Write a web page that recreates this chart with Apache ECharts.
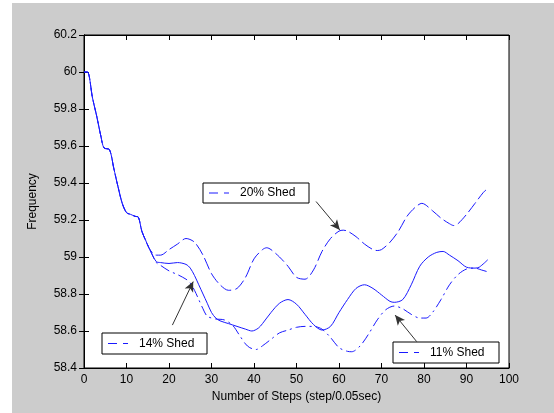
<!DOCTYPE html>
<html>
<head>
<meta charset="utf-8">
<script src="https://cdn.jsdelivr.net/npm/echarts@6/dist/echarts.min.js"></script>
<style>
  html, body { margin: 0; padding: 0; background: #ffffff; }
  #chart { width: 554px; height: 413px; }
</style>
</head>
<body>
<div id="chart"></div>
<script>
// ---- Data ----
const xTicks = [0, 10, 20, 30, 40, 50, 60, 70, 80, 90, 100];
const yTicks = [58.4, 58.6, 58.8, 59, 59.2, 59.4, 59.6, 59.8, 60, 60.2];

// Common descent shared by all three cases
const commonSteps = [0, 0.8, 2, 3, 4, 4.7, 6, 7, 8, 9, 10, 11, 12, 12.8, 13.6, 14.5, 15.5];
const commonVals  = [60.0, 60.0, 59.86, 59.76, 59.65, 59.59, 59.58, 59.48, 59.38, 59.29, 59.24, 59.23, 59.22, 59.215, 59.14, 59.09, 59.04];

// 20% Shed (top, dashed)
const shed20Steps = [17, 18, 20, 22, 24, 26, 28, 30, 32, 34, 36, 38, 40, 42, 43, 44, 46, 48, 50, 52, 54, 56, 58, 60, 61, 62, 64, 66, 68, 69, 70, 72, 74, 76, 78, 79.5, 82, 84, 86, 87, 88, 90, 92, 94, 95];
const shed20Vals  = [59.01, 59.01, 59.04, 59.07, 59.10, 59.08, 59.01, 58.91, 58.85, 58.82, 58.83, 58.89, 58.99, 59.04, 59.05, 59.04, 59.00, 58.95, 58.89, 58.88, 58.93, 59.03, 59.10, 59.14, 59.145, 59.14, 59.11, 59.07, 59.04, 59.035, 59.04, 59.08, 59.14, 59.22, 59.27, 59.29, 59.25, 59.21, 59.18, 59.17, 59.18, 59.23, 59.29, 59.35, 59.37];

// 14% Shed (middle, solid)
const shed14Steps = [17, 18, 20, 22, 24, 25, 26, 27, 28, 29, 30, 31, 32, 34, 36, 38, 39.5, 41, 42, 44, 46, 48, 50, 52, 54, 56, 58, 60, 62, 64, 66, 68, 70, 72, 73, 75, 77, 79, 81, 83, 84.5, 86, 88, 90, 92, 93, 95];
const shed14Vals  = [58.975, 58.97, 58.965, 58.97, 58.96, 58.94, 58.90, 58.85, 58.80, 58.75, 58.70, 58.67, 58.655, 58.64, 58.625, 58.61, 58.60, 58.615, 58.64, 58.70, 58.75, 58.77, 58.745, 58.69, 58.635, 58.605, 58.625, 58.70, 58.77, 58.83, 58.85, 58.83, 58.795, 58.76, 58.755, 58.77, 58.85, 58.95, 59.00, 59.025, 59.03, 59.01, 58.98, 58.945, 58.94, 58.945, 58.985];

// 11% Shed (bottom, dash-dot)
const shed11Steps = [17, 18, 20, 22, 24, 25, 26, 27, 28, 29, 31, 33, 35, 36.5, 38, 39, 40.5, 42, 44, 46, 48, 50, 52, 54, 56, 58, 60, 62, 63, 65, 67, 69, 71, 73, 75, 77, 79, 80.5, 82, 84, 86, 88, 90, 92, 93.5, 95];
const shed11Vals  = [58.97, 58.955, 58.925, 58.905, 58.88, 58.86, 58.82, 58.77, 58.72, 58.68, 58.665, 58.66, 58.63, 58.58, 58.53, 58.51, 58.50, 58.52, 58.555, 58.59, 58.605, 58.62, 58.625, 58.625, 58.61, 58.565, 58.51, 58.49, 58.488, 58.52, 58.585, 58.66, 58.715, 58.735, 58.72, 58.69, 58.67, 58.67, 58.70, 58.77, 58.85, 58.905, 58.935, 58.94, 58.93, 58.92];

// Annotation arrows: [fromStep, fromFreq, toStep, toFreq]
const arrow20 = [54.6, 59.30, 60.2, 59.146];
const arrow14 = [20.8, 58.632, 25.7, 58.867];
const arrow11 = [78.3, 58.542, 73.2, 58.686];

// ---- Build ----
function pairs(xs, ys) { return xs.map((x, i) => [x, ys[i]]); }
const common = pairs(commonSteps, commonVals);
const data20 = common.concat(pairs(shed20Steps, shed20Vals));
const data14 = common.concat(pairs(shed14Steps, shed14Vals));
const data11 = common.concat(pairs(shed11Steps, shed11Vals));

const FONT = "'Liberation Sans Narrow', 'Liberation Sans', Arial, sans-serif";
const BLUE = '#1a1aff';

function arrowLine(a) {
  return [
    { coord: [a[0], a[1]], symbol: 'none' },
    { coord: [a[2], a[3]], symbol: 'arrow', symbolSize: [7, 10] }
  ];
}

const chart = echarts.init(document.getElementById('chart'), null, { renderer: 'canvas' });

function legendBox(x, y, w, h, label, dash) {
  return {
    type: 'group', x: x, y: y, z: 100,
    children: [
      { type: 'rect', shape: { x: 0, y: 0, width: w, height: h }, style: { fill: '#ffffff', stroke: '#000000', lineWidth: 1 } },
      { type: 'line', shape: { x1: 6, y1: h / 2, x2: 26, y2: h / 2 }, style: { stroke: BLUE, lineWidth: 1, lineDash: dash } },
      { type: 'text', x: 37, y: h / 2, style: { text: label, font: '12px ' + FONT, fill: '#000000', textVerticalAlign: 'middle', verticalAlign: 'middle' } }
    ]
  };
}

const axisCommon = {
  axisLine: { lineStyle: { color: '#000000', width: 1 } },
  axisTick: { inside: true, length: 5, lineStyle: { color: '#000000' } },
  splitLine: { show: false }
};

chart.setOption({
  animation: false,
  backgroundColor: '#cccccc',
  textStyle: { fontFamily: FONT },
  grid: { left: 84, right: 45, top: 35, bottom: 45, show: true, backgroundColor: '#ffffff', borderColor: '#000000', borderWidth: 1 },
  xAxis: [
    Object.assign({
      type: 'value', min: xTicks[0], max: xTicks[xTicks.length - 1], interval: 10, position: 'bottom',
      name: 'Number of Steps (step/0.05sec)', nameLocation: 'middle', nameGap: 22,
      nameTextStyle: { fontSize: 12, color: '#000', fontFamily: FONT },
      axisLabel: { fontSize: 12, color: '#000', margin: 6, fontFamily: FONT }
    }, axisCommon),
    Object.assign({
      type: 'value', min: xTicks[0], max: xTicks[xTicks.length - 1], interval: 10, position: 'top',
      axisLabel: { show: false }
    }, axisCommon)
  ],
  yAxis: [
    Object.assign({
      type: 'value', min: yTicks[0], max: yTicks[yTicks.length - 1], interval: 0.2, position: 'left',
      name: 'Frequency', nameLocation: 'middle', nameGap: 45, nameRotate: 90,
      nameTextStyle: { fontSize: 12, color: '#000', fontFamily: FONT },
      axisLabel: { fontSize: 12, color: '#000', margin: 7, fontFamily: FONT }
    }, axisCommon),
    Object.assign({
      type: 'value', min: yTicks[0], max: yTicks[yTicks.length - 1], interval: 0.2, position: 'right',
      axisLabel: { show: false }
    }, axisCommon)
  ],
  series: [
    {
      name: '20% Shed', type: 'line', data: data20, showSymbol: false, smooth: 0.3,
      lineStyle: { color: BLUE, width: 1, type: [12, 4] },
      markLine: {
        silent: true, label: { show: false },
        lineStyle: { color: '#333333', width: 1, type: 'solid' },
        itemStyle: { color: '#000000' },
        data: [arrowLine(arrow20), arrowLine(arrow14), arrowLine(arrow11)]
      }
    },
    {
      name: '14% Shed', type: 'line', data: data14, showSymbol: false, smooth: 0.3,
      lineStyle: { color: BLUE, width: 1, type: 'solid' }
    },
    {
      name: '11% Shed', type: 'line', data: data11, showSymbol: false, smooth: 0.3,
      lineStyle: { color: BLUE, width: 1, type: [10, 4, 2, 4] }
    }
  ],
  graphic: [
    { type: 'rect', left: 0, top: 0, shape: { width: 12, height: 413 }, style: { fill: '#ffffff' }, z: 0, silent: true },
    { type: 'rect', left: 0, top: 0, shape: { width: 554, height: 3 }, style: { fill: '#ffffff' }, z: 0, silent: true },
    legendBox(203, 183, 106, 20, '20% Shed', [9, 6]),
    legendBox(102, 333, 105, 21, '14% Shed', [9, 6]),
    legendBox(393, 342, 106, 21, '11% Shed', [9, 6])
  ]
});
</script>
</body>
</html>
